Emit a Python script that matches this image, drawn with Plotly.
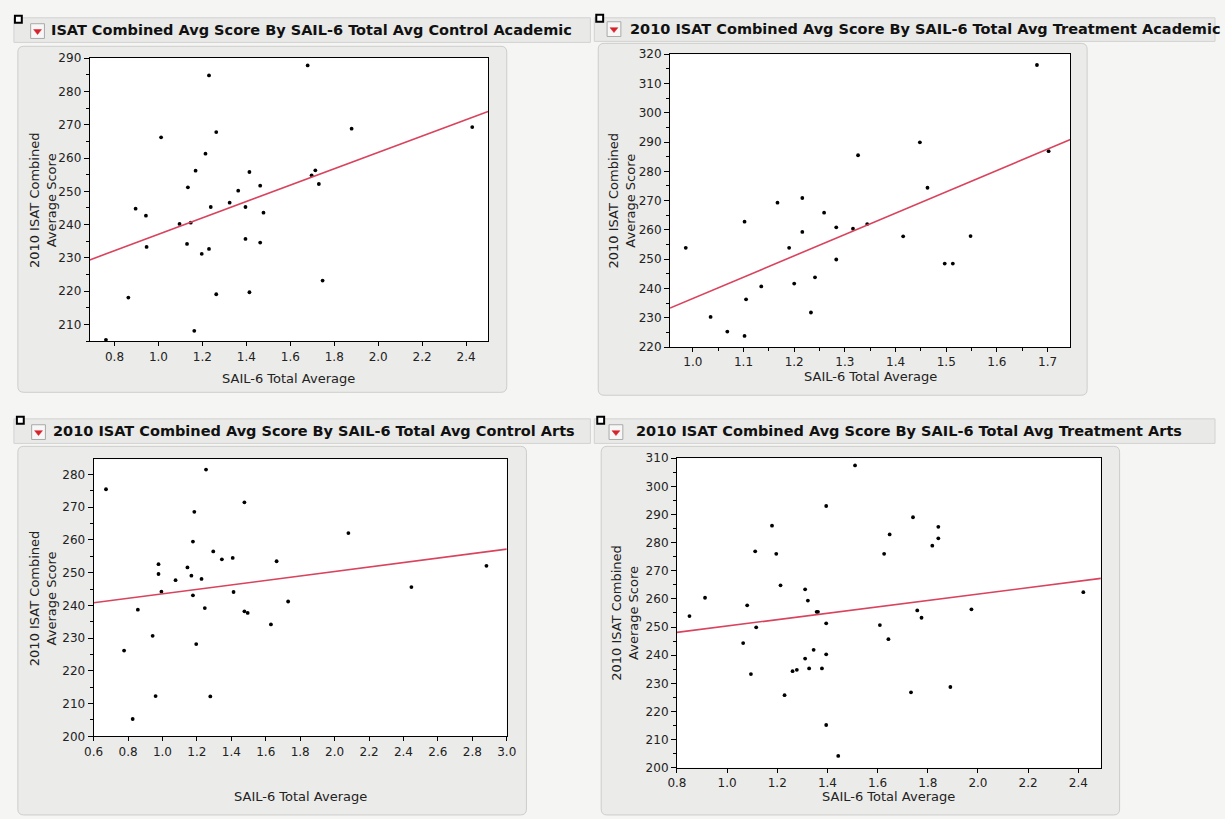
import plotly.graph_objects as go

W, H = 1225, 819

# ---------------- data ----------------
titles = [
    "ISAT Combined Avg Score By SAIL-6 Total Avg Control Academic",
    "2010 ISAT Combined Avg Score By SAIL-6 Total Avg Treatment Academic",
    "2010 ISAT Combined Avg Score By SAIL-6 Total Avg Control Arts",
    "2010 ISAT Combined Avg Score By SAIL-6 Total Avg Treatment Arts",
]
x_title = "SAIL-6 Total Average"
y_title = "2010 ISAT Combined<br>Average Score"

ctrl_acad_x = [0.761, 0.863, 0.896, 0.943, 0.946, 1.012, 1.096, 1.147, 1.130, 1.134,
               1.169, 1.163, 1.197, 1.214, 1.230, 1.230, 1.238, 1.263, 1.263, 1.324,
               1.363, 1.396, 1.396, 1.414, 1.414, 1.463, 1.463, 1.478, 1.679, 1.697,
               1.714, 1.730, 1.747, 1.879, 2.428]
ctrl_acad_y = [205.4, 218.1, 244.8, 242.7, 233.3, 266.2, 240.2, 240.6, 234.2, 251.2,
               256.2, 208.1, 231.2, 261.3, 284.8, 232.7, 245.3, 267.8, 219.1, 246.6,
               250.2, 245.3, 235.7, 255.8, 219.7, 251.7, 234.6, 243.6, 287.8, 254.8,
               256.3, 252.2, 223.2, 268.8, 269.3]

treat_acad_x = [0.986, 1.035, 1.068, 1.102, 1.102, 1.105, 1.135, 1.167, 1.190, 1.200,
                1.216, 1.216, 1.233, 1.241, 1.259, 1.283, 1.283, 1.316, 1.326, 1.344,
                1.415, 1.448, 1.463, 1.497, 1.513, 1.548, 1.679, 1.702]
treat_acad_y = [253.9, 230.3, 225.3, 223.8, 262.8, 236.3, 240.7, 269.3, 253.9, 241.7,
                270.9, 259.3, 231.8, 243.8, 265.9, 260.9, 249.9, 260.4, 285.5, 262.0,
                257.8, 289.9, 274.4, 248.5, 248.5, 257.9, 316.3, 286.9]

ctrl_arts_x = [0.672, 0.777, 0.827, 0.857, 0.943, 0.960, 0.977, 0.977, 0.994, 1.076,
               1.145, 1.168, 1.185, 1.177, 1.177, 1.196, 1.227, 1.246, 1.253, 1.278,
               1.295, 1.345, 1.408, 1.413, 1.476, 1.476, 1.495, 1.630, 1.663, 1.730,
               2.080, 2.446, 2.882]
ctrl_arts_y = [275.5, 226.2, 205.3, 238.7, 230.7, 212.3, 252.6, 249.6, 244.2, 247.7,
               251.6, 249.1, 268.6, 259.5, 243.1, 228.2, 248.1, 239.2, 281.5, 212.2,
               256.5, 254.1, 254.5, 244.1, 271.5, 238.2, 237.7, 234.2, 253.5, 241.2,
               262.1, 245.6, 252.1]

treat_arts_x = [0.850, 0.912, 1.064, 1.080, 1.095, 1.112, 1.116, 1.179, 1.196, 1.213,
                1.229, 1.261, 1.278, 1.311, 1.311, 1.322, 1.327, 1.345, 1.357, 1.362,
                1.378, 1.395, 1.395, 1.395, 1.395, 1.443, 1.510, 1.609, 1.626, 1.643,
                1.648, 1.741, 1.842, 1.842, 1.818, 1.758, 1.775, 1.733, 1.890, 1.974,
                2.420]
treat_arts_y = [253.9, 260.4, 244.3, 257.7, 233.3, 276.9, 249.9, 286.0, 276.0, 264.8,
                225.8, 234.3, 234.8, 263.4, 238.8, 259.4, 235.3, 241.9, 255.4, 255.4,
                235.3, 293.0, 251.3, 240.3, 215.2, 204.2, 307.4, 250.7, 276.0, 245.7,
                282.9, 289.0, 285.6, 281.5, 278.9, 255.9, 253.3, 226.8, 228.7, 256.3,
                262.4]

# fitted line (intercept, slope)
fit_intercepts = [212.5, 163.8, 236.7, 239.0]
fit_slopes = [24.6, 72.8, 6.83, 11.36]

# ---------------- layout (pixels) ----------------
panels = [
    dict(x=ctrl_acad_x, y=ctrl_acad_y, plot=(81, 486, 52, 340), xr=[0.687, 2.5], yr=[205, 290],
         xd=0.2, xminor=None, frame=(8, 505, 40, 392), band=(4, 590, 11, 36), title_x=40, title_y=23,
         sq=(5, 9), dd=(21, 17), ytx=33, xty=378),
    dict(x=treat_acad_x, y=treat_acad_y, plot=(671, 1078, 48, 346), xr=[0.955, 1.745], yr=[220, 320],
         xd=0.1, xminor=0.05, frame=(598, 1095, 37, 395), band=(594, 1225, 11, 35), title_x=628, title_y=22,
         sq=(596, 8), dd=(607, 15), ytx=622, xty=376),
    dict(x=ctrl_arts_x, y=ctrl_arts_y, plot=(85, 505, 460, 742), xr=[0.6, 3.0], yr=[200, 284.7],
         xd=0.2, xminor=None, frame=(8, 525, 447, 822), band=(4, 590, 419, 444), title_x=42, title_y=431,
         sq=(7, 417), dd=(22, 425), ytx=33, xty=803),
    dict(x=treat_arts_x, y=treat_arts_y, plot=(678, 1109, 459, 774), xr=[0.8, 2.49], yr=[200, 310],
         xd=0.2, xminor=None, frame=(601, 1128, 447, 822), band=(594, 1225, 419, 444), title_x=634, title_y=431,
         sq=(597, 417), dd=(609, 425), ytx=625, xty=803),
]

FONT = "DejaVu Sans"
RED = "#d9435e"

def px(xp):
    return xp / W

def py(yp):
    return 1 - yp / H

def rounded_rect(l, r, t, b, rad=6):
    pts = [
        ("M", l + rad, t), ("L", r - rad, t), ("Q", r, t, r, t + rad),
        ("L", r, b - rad), ("Q", r, b, r - rad, b), ("L", l + rad, b),
        ("Q", l, b, l, b - rad), ("L", l, t + rad), ("Q", l, t, l + rad, t),
    ]
    out = []
    for seg in pts:
        cmd = seg[0]
        coords = seg[1:]
        s = cmd + " " + " ".join("%f,%f" % (px(coords[k]), py(coords[k + 1])) for k in range(0, len(coords), 2))
        out.append(s)
    return " ".join(out) + " Z"

fig = go.Figure()
shapes = []
annotations = []

for i, p in enumerate(panels):
    n = "" if i == 0 else str(i + 1)
    xa, ya = "x" + n, "y" + n
    l, r, t, b = p["plot"]
    # frame (rounded)
    fl, fr, ft, fb = p["frame"]
    shapes.append(dict(type="path", xref="paper", yref="paper", layer="below",
                       path=rounded_rect(fl, fr, ft, fb),
                       fillcolor="#ebebe9", line=dict(color="#cdcdcb", width=1)))
    # title band
    bl, br, bt, bb = p["band"]
    shapes.append(dict(type="rect", xref="paper", yref="paper", layer="below",
                       x0=px(bl), x1=px(br), y0=py(bb), y1=py(bt),
                       fillcolor="#e9e9e8", line=dict(color="#d2d2d2", width=1)))
    # white plot area
    shapes.append(dict(type="rect", xref="paper", yref="paper", layer="below",
                       x0=px(l), x1=px(r), y0=py(b), y1=py(t),
                       fillcolor="white", line=dict(width=0)))
    # small black square
    sx, sy = p["sq"]
    shapes.append(dict(type="rect", xref="paper", yref="paper", layer="above",
                       x0=px(sx), x1=px(sx + 7), y0=py(sy + 7), y1=py(sy),
                       fillcolor="white", line=dict(color="black", width=2)))
    # dropdown box + red triangle
    dx, dy = p["dd"]
    shapes.append(dict(type="rect", xref="paper", yref="paper", layer="above",
                       x0=px(dx), x1=px(dx + 14), y0=py(dy + 15), y1=py(dy),
                       fillcolor="#f7f7f7", line=dict(color="#a9a9a9", width=1)))
    shapes.append(dict(type="path", xref="paper", yref="paper", layer="above",
                       path="M %f,%f L %f,%f L %f,%f Z" % (px(dx + 3), py(dy + 6), px(dx + 11), py(dy + 6),
                                                           px(dx + 7), py(dy + 11)),
                       fillcolor="#d8232a", line=dict(color="#d8232a", width=0.5)))
    # title
    annotations.append(dict(text=titles[i], xref="paper", yref="paper", x=px(p["title_x"]), y=py(p["title_y"]),
                            xanchor="left", yanchor="middle", showarrow=False,
                            font=dict(family=FONT, size=14.5, color="#111", weight="bold")))
    # axis titles
    annotations.append(dict(text=y_title, xref="paper", yref="paper", x=px(p["ytx"]), y=py((t + b) / 2),
                            xanchor="center", yanchor="middle", textangle=-90, showarrow=False,
                            font=dict(family=FONT, size=13, color="#222")))
    annotations.append(dict(text=x_title, xref="paper", yref="paper", x=px((l + r) / 2), y=py(p["xty"]),
                            xanchor="center", yanchor="middle", showarrow=False,
                            font=dict(family=FONT, size=13, color="#222")))

    # traces
    fig.add_trace(go.Scatter(x=p["x"], y=p["y"], mode="markers", xaxis=xa, yaxis=ya,
                             marker=dict(size=3.8, color="black"), showlegend=False, hoverinfo="x+y"))
    x0, x1 = p["xr"]
    fig.add_trace(go.Scatter(x=[x0, x1],
                             y=[fit_intercepts[i] + fit_slopes[i] * x0, fit_intercepts[i] + fit_slopes[i] * x1],
                             mode="lines", xaxis=xa, yaxis=ya, line=dict(color=RED, width=1.6),
                             showlegend=False, hoverinfo="skip"))

    xaxis = dict(domain=[px(l), px(r)], range=p["xr"], anchor=ya, tick0=0, dtick=p["xd"],
                 tickformat=".1f", showgrid=False, zeroline=False, showline=True, mirror=True,
                 linecolor="black", linewidth=1, ticks="outside", ticklen=4, tickcolor="black",
                 tickfont=dict(family=FONT, size=12, color="#222"))
    if p["xminor"]:
        xaxis["minor"] = dict(dtick=p["xminor"], ticklen=3, ticks="outside", tickcolor="black", showgrid=False)
    yaxis = dict(domain=[py(b), py(t)], range=p["yr"], anchor=xa, tick0=0, dtick=10,
                 tickformat="d", showgrid=False, zeroline=False, showline=True, mirror=True,
                 linecolor="black", linewidth=1, ticks="outside", ticklen=5, tickcolor="black",
                 tickfont=dict(family=FONT, size=12, color="#222"),
                 minor=dict(dtick=5, ticklen=3, ticks="outside", tickcolor="black", showgrid=False))
    fig.layout["xaxis" + n] = xaxis
    fig.layout["yaxis" + n] = yaxis

fig.update_layout(width=W, height=H, margin=dict(l=0, r=0, t=0, b=0),
                  paper_bgcolor="#f5f5f3", plot_bgcolor="white",
                  shapes=shapes, annotations=annotations, showlegend=False)

fig.write_html("out.html", config={"displayModeBar": False},
               post_script="document.body.style.margin='0px';document.body.style.overflow='hidden';")
